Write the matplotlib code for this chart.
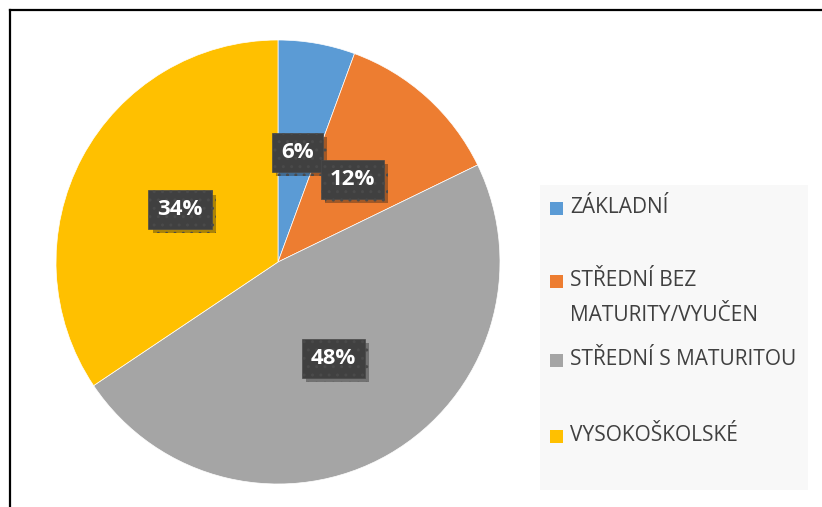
import matplotlib.pyplot as plt
import matplotlib.patheffects as pe
from matplotlib.patches import Rectangle
from matplotlib.lines import Line2D

labels = ["ZÁKLADNÍ", "STŘEDNÍ BEZ\nMATURITY/VYUČEN", "STŘEDNÍ S MATURITOU", "VYSOKOŠKOLSKÉ"]
values = [5.6, 12.2, 47.8, 34.4]
colors = ["#5b9bd5", "#ed7d31", "#a5a5a5", "#ffc000"]

W, H = 822, 507
fig = plt.figure(figsize=(W / 100, H / 100), dpi=100)
fig.patch.set_facecolor("white")

# frame lines (top and left)
fig.add_artist(Line2D([10 / W, 1], [1 - 10 / H, 1 - 10 / H], color="black", lw=1.6))
fig.add_artist(Line2D([10 / W, 10 / W], [0, 1 - 10 / H], color="black", lw=1.6))

# legend background
fig.add_artist(Rectangle((540 / W, 1 - 490 / H), 268 / W, 305 / H,
                         transform=fig.transFigure, fc="#f8f8f8", ec="none", zorder=0))

cx, cy, r = 278, 262, 222
ax = fig.add_axes([(cx - r) / W, 1 - (cy + r) / H, 2 * r / W, 2 * r / H])
wedges, texts, autotexts = ax.pie(values, colors=colors, startangle=90, counterclock=False,
                                  autopct="%.0f%%", pctdistance=0.5, radius=1,
                                  wedgeprops=dict(edgecolor="white", linewidth=0.5))
ax.set_xlim(-1, 1)
ax.set_ylim(-1, 1)
ax.axis("off")

for t in autotexts:
    t.set_color("white")
    t.set_fontsize(16)
    t.set_fontweight("bold")
    t.set_family("Open Sans")
    t.set_bbox(dict(boxstyle="square,pad=0.4", fc="#404040", ec="#4a4a4a", lw=0.5, hatch=".."))
    t.get_bbox_patch().set_path_effects([pe.SimplePatchShadow(offset=(3, -3), alpha=0.35), pe.Normal()])

# legend entries
rows = [208, 281, 360, 436]
for lab, col, y in zip(labels, colors, rows):
    fig.add_artist(Rectangle((550 / W, 1 - (y + 6.5) / H), 13 / W, 13 / H,
                             transform=fig.transFigure, fc=col, ec="none"))
    fig.text(570 / W, 1 - (y - 11) / H, lab, fontsize=15, family="Open Sans",
             color="#404040", va="top", ha="left", linespacing=1.85)

fig.savefig("out.png", dpi=100)
